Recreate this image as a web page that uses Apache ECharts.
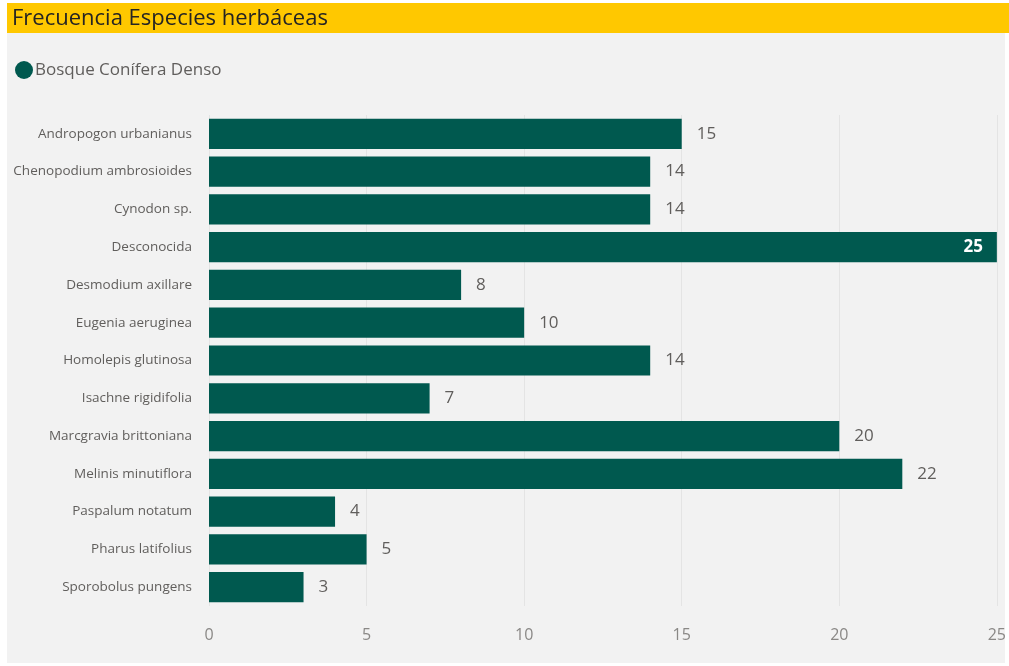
<!DOCTYPE html>
<html><head><meta charset="utf-8">
<script src="https://cdn.jsdelivr.net/npm/echarts@6/dist/echarts.min.js"></script>
<style>html,body{margin:0;padding:0;background:#fff}#c{width:1009px;height:666px}</style>
</head><body><div id="c"></div>
<script>
const categories = ["Andropogon urbanianus","Chenopodium ambrosioides","Cynodon sp.","Desconocida","Desmodium axillare","Eugenia aeruginea","Homolepis glutinosa","Isachne rigidifolia","Marcgravia brittoniana","Melinis minutiflora","Paspalum notatum","Pharus latifolius","Sporobolus pungens"];
const values = [15,14,14,25,8,10,14,7,20,22,4,5,3];
const xTicks = [0,5,10,15,20,25];
const seriesName = "Bosque Conífera Denso";
const titleText = "Frecuencia Especies herbáceas";

const chart = echarts.init(document.getElementById('c'), null, {renderer:'canvas'});
const maxV = Math.max(...values);
chart.setOption({
  backgroundColor:'#ffffff',
  animation:false,
  graphic:[
    {type:'rect', z:-10, shape:{x:7,y:33,width:998,height:630}, style:{fill:'#f2f2f2'}},
    {type:'rect', z:-9, shape:{x:7,y:3,width:1002,height:30}, style:{fill:'#ffc800'}}
  ],
  title:{text:titleText, left:12, top:8, padding:0,
    textStyle:{fontFamily:'Open Sans', fontSize:22, fontWeight:'normal', color:'#252423'}},
  legend:{data:[seriesName], left:10, top:56, icon:'circle', itemWidth:18, itemHeight:18, itemGap:4,
    textStyle:{fontFamily:'Open Sans', fontSize:17, color:'#605e5c', padding:[0,0,0,-3]}},
  grid:{left:209, right:9, top:115, bottom:60, containLabel:false},
  xAxis:{type:'value', min:0, max:25, interval:5,
    axisLine:{show:false}, axisTick:{show:false},
    splitLine:{show:true, lineStyle:{color:'#e4e4e4', width:1}},
    axisLabel:{fontFamily:'Open Sans', fontSize:16, color:'#8a8886', margin:21,
      formatter:v=>xTicks.includes(v)?String(v):''}},
  yAxis:{type:'category', data:categories, inverse:true,
    axisLine:{show:false}, axisTick:{show:false},
    axisLabel:{fontFamily:'Open Sans', fontSize:13.5, color:'#605e5c', margin:17}},
  series:[{name:seriesName, type:'bar', data:values.map(v=>({value:v,
      label: v===maxV ? {position:'insideRight', color:'#ffffff', fontWeight:'bold', distance:14} : {}})),
    barCategoryGap:'20%',
    itemStyle:{color:'#00594f'},
    label:{show:true, position:'right', distance:15, fontFamily:'Open Sans', fontSize:17, color:'#605e5c'}
  }]
});
</script></body></html>
